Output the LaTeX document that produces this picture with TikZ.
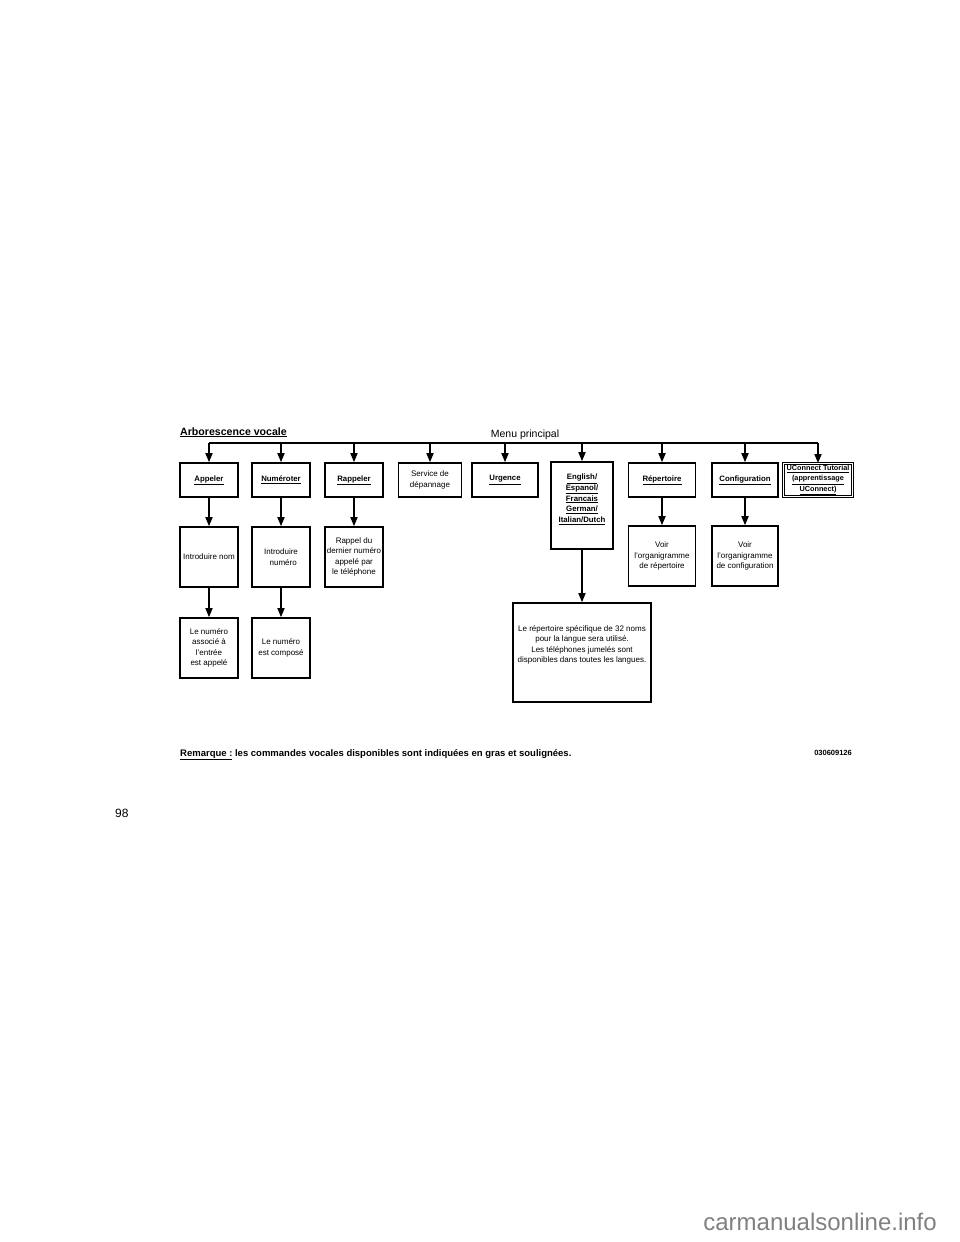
\documentclass[tikz,border=0pt]{standalone}
\usepackage{fontspec}
\setmainfont{Liberation Sans}
\usepackage{xcolor}
\usepackage{tikz}
\usetikzlibrary{positioning}
\usetikzlibrary{arrows.meta}
\newcommand{\vcmd}[1]{\underline{#1}}

\begin{document}
\begin{tikzpicture}
                [x=1pt, y=-1pt,
                box/.style = {draw, line width=1.6pt, minimum width=58pt, minimum height=34pt, inner sep=1pt, align=center, font=\fontsize{8}{10.5}\selectfont},
                cmd/.style = {box, font=\fontsize{7.8}{10.6}\selectfont\bfseries},
                box1/.style = {box, minimum height=60pt},
                txt/.style = {align=center, inner sep=0pt, font=\fontsize{8}{10.5}\selectfont},
                arr/.style = {-{Triangle[length=9pt,width=7pt]}, line width=1.6pt}]
                \useasboundingbox (0,0) rectangle (960,1242);
                % Titles
                \node[anchor=base west, inner sep=0pt, font=\fontsize{10.6}{12}\selectfont\bfseries] (title) at (180,435) {\vcmd{Arborescence vocale}};
                \node[anchor=base, inner sep=0pt, font=\fontsize{10.5}{12}\selectfont] (menu) at (525,437) {Menu principal};
                \coordinate (bus) at (0,443);
                % Main menu commands
                \node[cmd] (app) at (209,480) {\vcmd{Appeler}};
                \node[cmd] (num) at (281,480) {\vcmd{Numéroter}};
                \node[cmd] (rap) at (354,480) {\vcmd{Rappeler}};
                \node[box, minimum width=63pt] (serv) at (430,480) {Service de\\dépannage};
                \node[cmd, minimum width=66pt] (urg) at (505,480) {\vcmd{Urgence}};
                \node[cmd, minimum width=62pt, minimum height=87pt] (eng) at (582,505.5) {\vcmd{English/}\\\vcmd{Espanol/}\\\vcmd{Francais}\\\vcmd{German/}\\\vcmd{Italian/Dutch}\\[4pt]};
                \node[cmd, minimum width=67pt] (rep) at (662,480) {\vcmd{Répertoire}};
                \node[cmd, minimum width=66pt] (conf) at (745,480) {\vcmd{Configuration}};
                \node[cmd, minimum width=69pt, minimum height=33pt, inner sep=0pt, line width=0.9pt, double, double distance=1.2pt, font=\fontsize{7.3}{10.2}\selectfont\bfseries] (uc) at (818,480) {\vcmd{UConnect Tutorial}\\\vcmd{(apprentissage}\\\vcmd{UConnect)}};
                % Second level
                \node[box1] (nom) at (209,557) {Introduire nom};
                \node[box1] (numero) at (281,557) {Introduire\\\ \ numéro};
                \node[box1] (rappel) at (354,557) {Rappel du\\dernier numéro\\appelé par\\le téléphone};
                \node[box1, minimum width=67pt] (voirrep) at (662,556) {Voir\\l'organigramme\\de répertoire};
                \node[box1, minimum width=66pt] (voirconf) at (745,556) {Voir\\l'organigramme\\de configuration};
                % Third level
                \node[box1] (assoc) at (209,648) {Le numéro\\associé à\\l'entrée\\est appelé};
                \node[box1] (comp) at (281,648) {Le numéro\\est composé};
                \node[box, minimum width=138pt, minimum height=99pt] (lang) at (582,652.5) {};
                \node[txt] (langtxt) at (582,645) {Le répertoire spécifique de 32 noms\\pour la langue sera utilisé.\\Les téléphones jumelés sont\\disponibles dans toutes les langues.};
                % Lines
                \draw[line width=1.6pt] (app.north |- bus) -- (uc.north |- bus);
                \path[arr] (app.north |- bus) edge (app);
                \path[arr] (num.north |- bus) edge (num);
                \path[arr] (rap.north |- bus) edge (rap);
                \path[arr] (serv.north |- bus) edge (serv);
                \path[arr] (urg.north |- bus) edge (urg);
                \path[arr] (eng.north |- bus) edge (eng);
                \path[arr] (rep.north |- bus) edge (rep);
                \path[arr] (conf.north |- bus) edge (conf);
                \path[arr] (uc.north |- bus) edge (uc);
                \path[arr] (app) edge (nom);
                \path[arr] (nom) edge (assoc);
                \path[arr] (num) edge (numero);
                \path[arr] (numero) edge (comp);
                \path[arr] (rap) edge (rappel);
                \path[arr] (eng) edge (lang);
                \path[arr] (rep) edge (voirrep);
                \path[arr] (conf) edge (voirconf);
                % Note and page text
                \node[anchor=base west, inner sep=0pt, font=\fontsize{9.5}{11}\selectfont\bfseries] (note) at (180,756) {\vcmd{Remarque :} les commandes vocales disponibles sont indiquées en gras et soulignées.};
                \node[anchor=base east, inner sep=0pt, font=\fontsize{7.5}{9}\selectfont\bfseries] (ref) at (852,755) {030609126};
                \node[anchor=base west, inner sep=0pt, font=\fontsize{12}{14}\selectfont] (page) at (115,817) {98};
                \node[anchor=base east, inner sep=0pt, text=gray, font=\fontsize{24}{28}\selectfont] (wm) at (937,1230) {carmanualsonline.info};
            \end{tikzpicture}
\end{document}
